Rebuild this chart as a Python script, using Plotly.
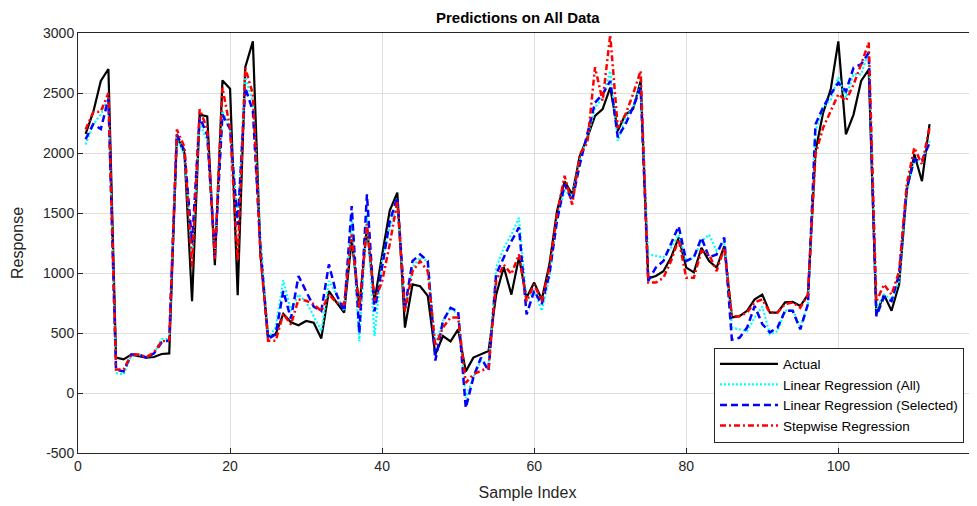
import plotly.graph_objects as go

sample_index = list(range(1, 113))

actual = [2160, 2340, 2600, 2700, 295, 280, 320, 310, 295, 300,
          325, 330, 2140, 2000, 765, 2320, 2305, 1065, 2605, 2535,
          815, 2715, 2930, 1150, 470, 490, 660, 590, 565, 600,
          585, 455, 850, 755, 670, 1280, 710, 1380, 770, 1150,
          1520, 1670, 545, 905, 890, 810, 320, 475, 430, 530,
          180, 295, 320, 350, 820, 1050, 820, 1130, 795, 920,
          780, 1070, 1515, 1765, 1655, 1975, 2130, 2310, 2365, 2545,
          2185, 2320, 2365, 2600, 955, 975, 1015, 1130, 1295, 1045,
          1005, 1210, 1100, 1045, 1225, 630, 640, 685, 780, 820,
          670, 670, 755, 760, 725, 820, 2015, 2335, 2530, 2930,
          2155, 2320, 2600, 2695, 655, 820, 685, 905, 1685, 1990,
          1765, 2240]

lr_all = [2070, 2240, 2320, 2460, 165, 155, 310, 320, 300, 330,
          450, 450, 2130, 1980, 1150, 2250, 2100, 1200, 2350, 2200,
          1450, 2630, 2430, 1300, 460, 545, 940, 685, 820, 760,
          640, 516, 933, 822, 683, 1461, 430, 1490, 475, 1100,
          1380, 1570, 700, 1050, 1130, 1100, 405, 600, 710, 655,
          -40, 130, 270, 240, 1045, 1210, 1320, 1460, 765, 850,
          685, 960, 1460, 1685, 1640, 1935, 2130, 2380, 2460, 2685,
          2100, 2295, 2380, 2570, 1155, 1145, 1130, 1210, 1320, 1100,
          1130, 1265, 1320, 1185, 1265, 545, 530, 515, 630, 720,
          490, 515, 685, 695, 545, 740, 2185, 2380, 2445, 2630,
          2460, 2655, 2655, 2850, 700, 820, 780, 935, 1685, 1945,
          1935, 2100]

lr_selected = [2115, 2240, 2200, 2450, 195, 180, 320, 320, 295, 330,
               420, 440, 2155, 2020, 1250, 2300, 2150, 1150, 2320, 2200,
               1400, 2545, 2350, 1200, 450, 490, 850, 620, 975, 850,
               720, 683, 1072, 822, 683, 1558, 500, 1655, 680, 1050,
               1430, 1630, 710, 1100, 1155, 1100, 270, 600, 710, 680,
               -125, 130, 295, 185, 990, 1130, 1265, 1380, 655, 850,
               740, 990, 1435, 1740, 1600, 1905, 2155, 2420, 2490, 2600,
               2130, 2240, 2380, 2545, 935, 1045, 1100, 1240, 1390, 1100,
               1130, 1295, 1130, 1155, 1295, 445, 460, 545, 725, 575,
               505, 545, 685, 685, 530, 740, 2240, 2380, 2490, 2585,
               2515, 2710, 2740, 2835, 640, 800, 765, 990, 1710, 1945,
               1935, 2085]

stepwise = [2195, 2340, 2345, 2500, 195, 195, 320, 320, 300, 340,
            430, 440, 2195, 2050, 1050, 2365, 2200, 1120, 2545, 2210,
            1100, 2710, 2490, 1150, 435, 435, 660, 570, 780, 770,
            740, 683, 822, 753, 740, 1322, 700, 1410, 770, 930,
            1240, 1600, 680, 1015, 1100, 1015, 390, 545, 630, 630,
            85, 155, 185, 210, 935, 1070, 990, 1155, 765, 905,
            765, 1045, 1490, 1810, 1570, 1990, 2085, 2715, 2435, 2985,
            2210, 2320, 2490, 2685, 920, 920, 960, 1100, 1280, 960,
            960, 1185, 1155, 1015, 1210, 640, 640, 670, 755, 780,
            670, 670, 740, 755, 710, 820, 1990, 2210, 2350, 2490,
            2435, 2570, 2740, 2920, 760, 905, 820, 1015, 1740, 2045,
            1905, 2210]

x_ticks = [0, 20, 40, 60, 80, 100]
y_ticks = [-500, 0, 500, 1000, 1500, 2000, 2500, 3000]

FONT = "Liberation Sans, Arial, sans-serif"
AX = "#262626"

fig = go.Figure()
fig.add_trace(go.Scatter(x=sample_index, y=actual, mode="lines", name="Actual",
                         line=dict(color="black", width=2.2)))
fig.add_trace(go.Scatter(x=sample_index, y=lr_all, mode="lines", name="Linear Regression (All)",
                         line=dict(color="#00ffff", width=2.2, dash="2px,2px")))
fig.add_trace(go.Scatter(x=sample_index, y=lr_selected, mode="lines", name="Linear Regression (Selected)",
                         line=dict(color="#0000ff", width=2.5, dash="7px,4px")))
fig.add_trace(go.Scatter(x=sample_index, y=stepwise, mode="lines", name="Stepwise Regression",
                         line=dict(color="#ff0000", width=2.5, dash="6px,3px,2px,3px")))

# The page body has an 8px default margin, so the figure is sized to fill the rest.
fig.update_layout(
    width=969, height=498,
    margin=dict(l=70, r=0, t=25, b=53, autoexpand=False),
    paper_bgcolor="white", plot_bgcolor="white",
    font=dict(family=FONT, size=14, color=AX),
    showlegend=True,
    legend=dict(x=0.9855, y=0.025, xanchor="right", yanchor="bottom",
                bgcolor="white", bordercolor="#262626", borderwidth=1,
                font=dict(family=FONT, size=13.5, color="black"),
                tracegroupgap=0, itemwidth=58),
    annotations=[dict(text="<b>Predictions on All Data</b>", xref="paper", yref="paper",
                      x=(518 - 78) / 899, y=1, xanchor="center", yanchor="bottom",
                      yshift=5, showarrow=False,
                      font=dict(family=FONT, size=15, color="black"))],
)
fig.update_xaxes(range=[0, 118.24], tickvals=x_ticks, ticktext=[str(v) for v in x_ticks],
                 automargin=False,
                 showgrid=True, gridcolor="#dfdfdf", gridwidth=1,
                 showline=True, linecolor=AX, linewidth=1, mirror=True,
                 ticks="inside", ticklen=5, tickcolor=AX, zeroline=False,
                 title=dict(text="Sample Index", font=dict(size=16, color=AX), standoff=14),
                 tickfont=dict(size=14, color=AX))
fig.update_yaxes(range=[-500, 3000], tickvals=y_ticks, ticktext=[str(v) for v in y_ticks],
                 automargin=False,
                 showgrid=True, gridcolor="#dfdfdf", gridwidth=1,
                 showline=True, linecolor=AX, linewidth=1, mirror=False,
                 ticks="inside", ticklen=5, tickcolor=AX, zeroline=False,
                 title=dict(text="Response", font=dict(size=16, color=AX), standoff=15),
                 tickfont=dict(size=14, color=AX))

fig.write_html("out.html")
